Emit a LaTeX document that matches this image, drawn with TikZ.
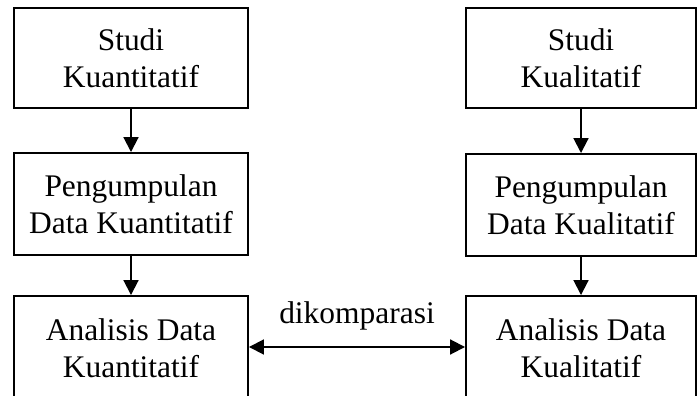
\documentclass[tikz,border=0pt]{standalone}
\usepackage{fontspec}
\setmainfont{Liberation Serif}
\usetikzlibrary{arrows.meta, positioning}

\begin{document}
\begin{tikzpicture}[
  kotak/.style={draw, line width=1.1pt, align=center, inner sep=0pt},
  kiri/.style={kotak, minimum width=4.68cm},
  kanan/.style={kotak, minimum width=4.6cm},
  panah/.style={-{Triangle[length=8.5pt, width=8.5pt]}, line width=1.1pt},
  font=\fontsize{17.9}{21}\selectfont
]
\clip (0,0) rectangle (13.98,-7.92);

% Kuantitatif
\node[kiri, minimum height=2cm] (kuanStudi) at (2.62,-1.16) {Studi\\Kuantitatif};
\node[kiri, minimum height=2.04cm] (kuanData) at (2.62,-4.08) {Pengumpulan\\Data Kuantitatif};
\node[kiri, minimum height=2.1cm] (kuanAnalisis) at (2.62,-6.97) {Analisis Data\\Kuantitatif};

% Kualitatif
\node[kanan, minimum height=2cm] (kualStudi) at (11.62,-1.16) {Studi\\Kualitatif};
\node[kanan, minimum height=2.04cm] (kualData) at (11.62,-4.1) {Pengumpulan\\Data Kualitatif};
\node[kanan, minimum height=2.1cm] (kualAnalisis) at (11.62,-6.97) {Analisis Data\\Kualitatif};

% Alur
\draw[panah] (kuanStudi) -- (kuanData);
\draw[panah] (kuanData) -- (kuanAnalisis);
\draw[panah] (kualStudi) -- (kualData);
\draw[panah] (kualData) -- (kualAnalisis);

% Perbandingan
\draw[panah, {Triangle[length=8.5pt, width=8.5pt]}-{Triangle[length=8.5pt, width=8.5pt]}]
  (kuanAnalisis.east |- 0,-6.94) coordinate (kiriPanah) -- (kualAnalisis.west |- 0,-6.94)
  node[midway, above=9pt, inner sep=0pt] (banding) {dikomparasi};
\end{tikzpicture}
\end{document}
